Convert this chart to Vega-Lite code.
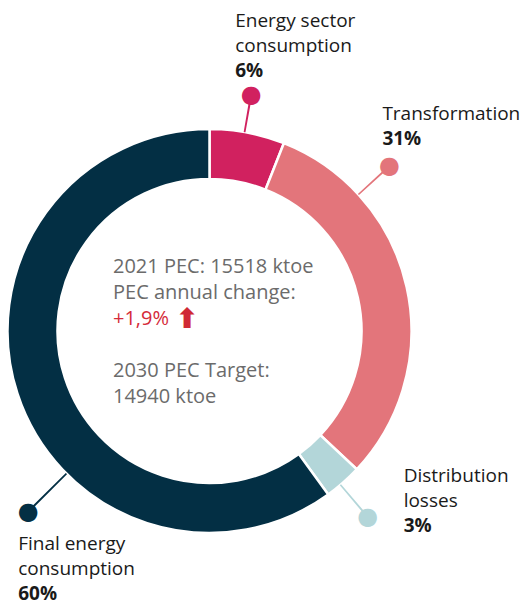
{
  "$schema": "https://vega.github.io/schema/vega-lite/v6.json",
  "width": 419,
  "height": 554,
  "autosize": "none",
  "padding": {"left": 0, "top": 54, "right": 103, "bottom": 0},
  "background": "white",
  "config": {"view": {"stroke": null}, "text": {"font": "Open Sans"}},
  "data": {
    "values": [
      {"category": "Energy sector consumption", "label": "Energy sector\nconsumption", "value": 0.06, "order": 1},
      {"category": "Transformation", "label": "Transformation", "value": 0.31, "order": 2},
      {"category": "Distribution losses", "label": "Distribution\nlosses", "value": 0.03, "order": 3},
      {"category": "Final energy consumption", "label": "Final energy\nconsumption", "value": 0.60, "order": 4}
    ]
  },
  "transform": [
    {"stack": "value", "groupby": [], "sort": [{"field": "order", "order": "ascending"}], "as": ["v0", "v1"]}
  ],
  "layer": [
    {
      "mark": {"type": "arc", "innerRadius": 152, "outerRadius": 202, "stroke": "#ffffff", "strokeWidth": 2.5},
      "encoding": {
        "theta": {"field": "v0", "type": "quantitative", "scale": {"domain": [0, 1]}},
        "theta2": {"field": "v1"},
        "color": {
          "field": "category", "type": "nominal", "legend": null,
          "scale": {
            "domain": ["Energy sector consumption", "Transformation", "Distribution losses", "Final energy consumption"],
            "range": ["#d1215f", "#e3757b", "#b3d6d9", "#032f44"]
          }
        }
      }
    },
    {
      "transform": [{"filter": "datum.order == 1"}],
      "encoding": {
        "theta": {"field": "v0", "type": "quantitative", "scale": {"domain": [0, 1]}},
        "color": {"field": "category", "type": "nominal", "legend": null}
      },
      "layer": [
        {"mark": {"type": "arc", "innerRadius": 202, "outerRadius": 238, "thetaOffset": 0.1700, "theta2Offset": 0.1790}, "encoding": {"theta2": {"field": "v0"}}},
        {"mark": {"type": "text", "text": "●", "font": "DejaVu Sans", "fontSize": 24, "radius": 240, "thetaOffset": 0.1745, "align": "center", "baseline": "middle"}},
        {"mark": {"type": "text", "radius": 240, "thetaOffset": 0.1745, "align": "left", "baseline": "alphabetic", "fontSize": 19, "lineBreak": "\n", "lineHeight": 25, "dx": -16, "dy": -68}, "encoding": {"text": {"field": "label"}, "color": {"value": "#1a1a1a"}}},
        {"mark": {"type": "text", "radius": 240, "thetaOffset": 0.1745, "align": "left", "baseline": "alphabetic", "fontSize": 19, "fontWeight": "bold", "dx": -16, "dy": -18}, "encoding": {"text": {"field": "value", "format": ".0%"}, "color": {"value": "#1a1a1a"}}}
      ]
    },
    {
      "transform": [{"filter": "datum.order == 2"}],
      "encoding": {
        "theta": {"field": "v0", "type": "quantitative", "scale": {"domain": [0, 1]}},
        "color": {"field": "category", "type": "nominal", "legend": null}
      },
      "layer": [
        {"mark": {"type": "arc", "innerRadius": 202, "outerRadius": 242, "thetaOffset": 0.4480, "theta2Offset": 0.4560}, "encoding": {"theta2": {"field": "v0"}}},
        {"mark": {"type": "text", "text": "●", "font": "DejaVu Sans", "fontSize": 24, "radius": 244, "thetaOffset": 0.4520, "align": "center", "baseline": "middle"}},
        {"mark": {"type": "text", "radius": 244, "thetaOffset": 0.4520, "align": "left", "baseline": "alphabetic", "fontSize": 19, "lineBreak": "\n", "lineHeight": 25, "dx": -7, "dy": -46}, "encoding": {"text": {"field": "label"}, "color": {"value": "#1a1a1a"}}},
        {"mark": {"type": "text", "radius": 244, "thetaOffset": 0.4520, "align": "left", "baseline": "alphabetic", "fontSize": 19, "fontWeight": "bold", "dx": -7, "dy": -21}, "encoding": {"text": {"field": "value", "format": ".0%"}, "color": {"value": "#1a1a1a"}}}
      ]
    },
    {
      "transform": [{"filter": "datum.order == 3"}],
      "encoding": {
        "theta": {"field": "v0", "type": "quantitative", "scale": {"domain": [0, 1]}},
        "color": {"field": "category", "type": "nominal", "legend": null}
      },
      "layer": [
        {"mark": {"type": "arc", "innerRadius": 202, "outerRadius": 242, "thetaOffset": 0.1077, "theta2Offset": 0.1157}, "encoding": {"theta2": {"field": "v0"}}},
        {"mark": {"type": "text", "text": "●", "font": "DejaVu Sans", "fontSize": 24, "radius": 244, "thetaOffset": 0.1117, "align": "center", "baseline": "middle"}},
        {"mark": {"type": "text", "radius": 244, "thetaOffset": 0.1117, "align": "left", "baseline": "alphabetic", "fontSize": 19, "lineBreak": "\n", "lineHeight": 25, "dx": 36, "dy": -35}, "encoding": {"text": {"field": "label"}, "color": {"value": "#1a1a1a"}}},
        {"mark": {"type": "text", "radius": 244, "thetaOffset": 0.1117, "align": "left", "baseline": "alphabetic", "fontSize": 19, "fontWeight": "bold", "dx": 36, "dy": 15}, "encoding": {"text": {"field": "value", "format": ".0%"}, "color": {"value": "#1a1a1a"}}}
      ]
    },
    {
      "transform": [{"filter": "datum.order == 4"}],
      "encoding": {
        "theta": {"field": "v0", "type": "quantitative", "scale": {"domain": [0, 1]}},
        "color": {"field": "category", "type": "nominal", "legend": null}
      },
      "layer": [
        {"mark": {"type": "arc", "innerRadius": 202, "outerRadius": 254, "thetaOffset": 1.4115, "theta2Offset": 1.4195}, "encoding": {"theta2": {"field": "v0"}}},
        {"mark": {"type": "text", "text": "●", "font": "DejaVu Sans", "fontSize": 24, "radius": 256, "thetaOffset": 1.4155, "align": "center", "baseline": "middle"}},
        {"mark": {"type": "text", "radius": 256, "thetaOffset": 1.4155, "align": "left", "baseline": "alphabetic", "fontSize": 19, "lineBreak": "\n", "lineHeight": 25, "dx": -10, "dy": 38}, "encoding": {"text": {"field": "label"}, "color": {"value": "#1a1a1a"}}},
        {"mark": {"type": "text", "radius": 256, "thetaOffset": 1.4155, "align": "left", "baseline": "alphabetic", "fontSize": 19, "fontWeight": "bold", "dx": -10, "dy": 88}, "encoding": {"text": {"field": "value", "format": ".0%"}, "color": {"value": "#1a1a1a"}}}
      ]
    },
    {
      "data": {"values": [{"pec": "2021 PEC: 15518 ktoe\nPEC annual change:", "change": "+1,9%", "arrow": "⬆", "target": "2030 PEC Target:\n14940 ktoe"}]},
      "layer": [
        {"mark": {"type": "text", "align": "left", "baseline": "alphabetic", "fontSize": 20, "lineBreak": "\n", "lineHeight": 26, "dx": -96.5, "dy": -58, "color": "#6b6b6b"}, "encoding": {"text": {"field": "pec"}}},
        {"mark": {"type": "text", "align": "left", "baseline": "alphabetic", "fontSize": 20, "dx": -96.5, "dy": -6, "color": "#d52b3a"}, "encoding": {"text": {"field": "change"}}},
        {"mark": {"type": "text", "align": "left", "baseline": "alphabetic", "font": "DejaVu Sans", "fontWeight": "bold", "fontSize": 28, "dx": -34, "dy": -3, "color": "#d02a34"}, "encoding": {"text": {"field": "arrow"}}},
        {"mark": {"type": "text", "align": "left", "baseline": "alphabetic", "fontSize": 20, "lineBreak": "\n", "lineHeight": 26, "dx": -96.5, "dy": 46, "color": "#6b6b6b"}, "encoding": {"text": {"field": "target"}}}
      ]
    }
  ]
}
